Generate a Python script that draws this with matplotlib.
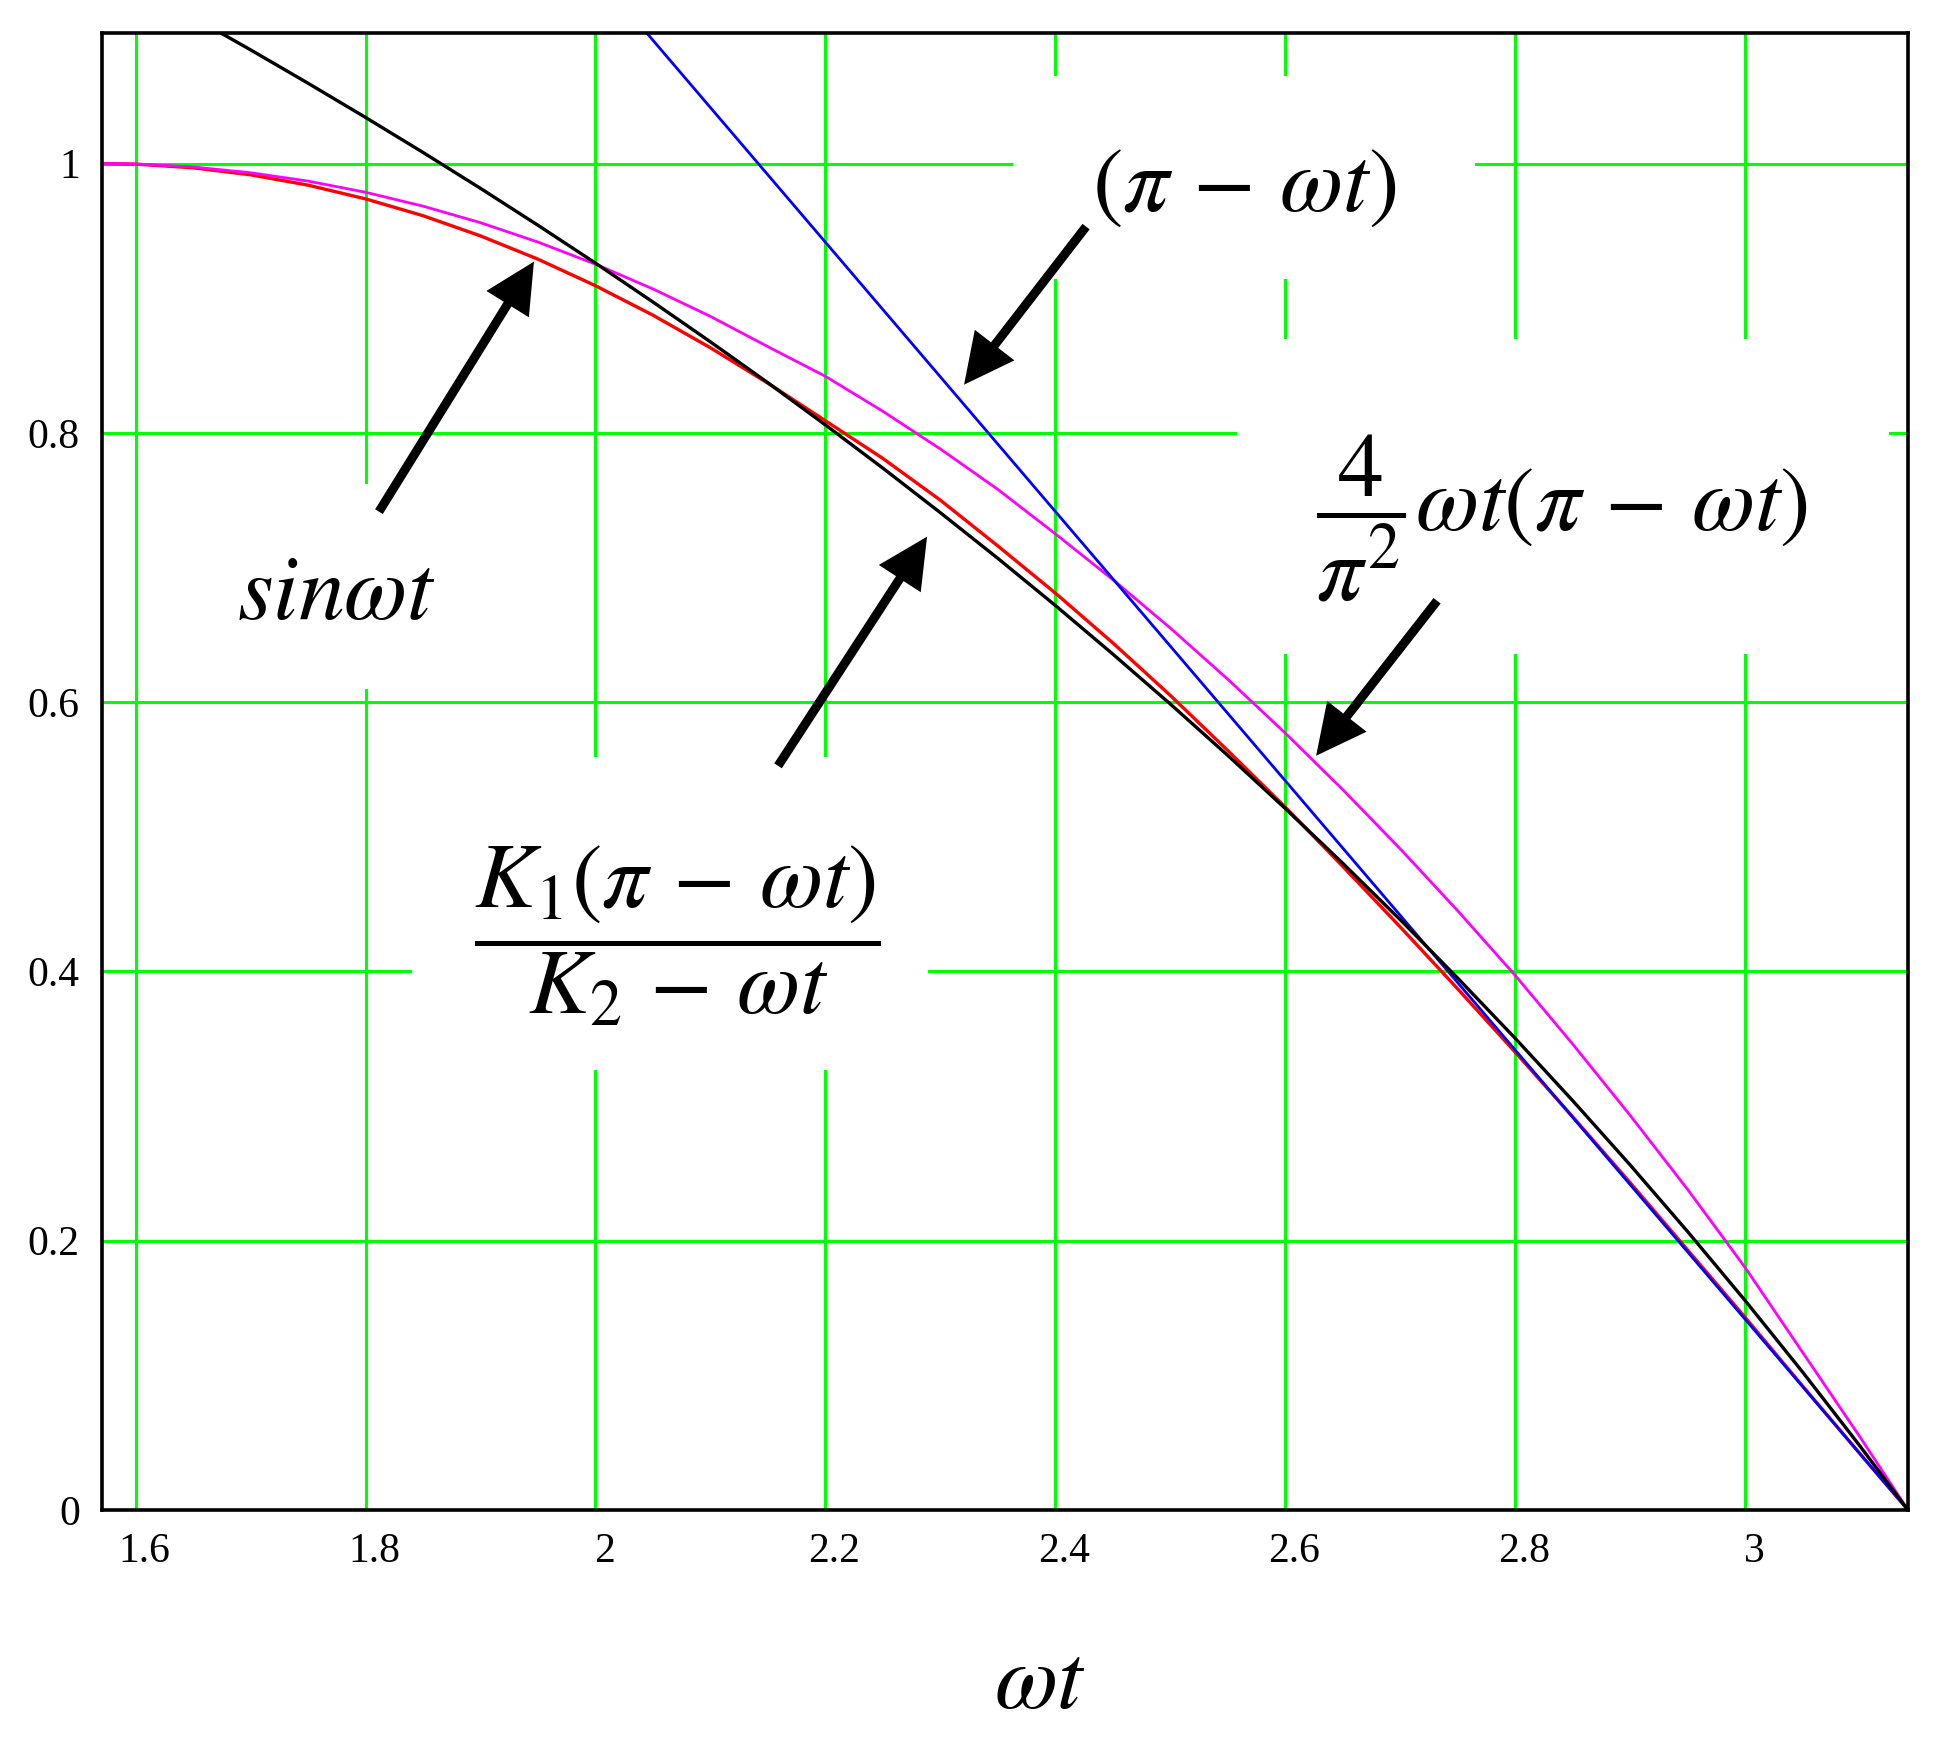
import numpy as np
import matplotlib
matplotlib.use('Agg')
import matplotlib.pyplot as plt
from matplotlib.patches import Rectangle
from matplotlib.transforms import ScaledTranslation

plt.rcParams['mathtext.fontset'] = 'stix'

# values (omega*t on x)
wt = [1.5708, 1.60, 1.65, 1.70, 1.75, 1.80, 1.85, 1.90, 1.95, 2.00, 2.05,
      2.10, 2.15, 2.20, 2.25, 2.30, 2.35, 2.40, 2.45, 2.50, 2.55, 2.60,
      2.65, 2.70, 2.75, 2.80, 2.85, 2.90, 2.95, 3.00, 3.05, 3.10, 3.1416]

sin_wt = [1.0000, 0.9996, 0.9969, 0.9917, 0.9840, 0.9738, 0.9613, 0.9463,
          0.9290, 0.9093, 0.8874, 0.8632, 0.8369, 0.8090, 0.7810, 0.7500,
          0.7160, 0.6810, 0.6440, 0.6050, 0.5640, 0.5220, 0.4780, 0.4330,
          0.3870, 0.3400, 0.2920, 0.2430, 0.1930, 0.1430, 0.0920, 0.0416, 0.0]

pi_minus = [1.5708, 1.5416, 1.4916, 1.4416, 1.3916, 1.3416, 1.2916, 1.2416,
            1.1916, 1.1416, 1.0916, 1.0416, 0.9916, 0.9416, 0.8916, 0.8416,
            0.7916, 0.7416, 0.6916, 0.6416, 0.5916, 0.5416, 0.4916, 0.4416,
            0.3916, 0.3416, 0.2916, 0.2416, 0.1916, 0.1416, 0.0916, 0.0416, 0.0]

parab = [1.0000, 0.9997, 0.9975, 0.9932, 0.9870, 0.9787, 0.9684, 0.9561,
         0.9417, 0.9253, 0.9069, 0.8865, 0.8640, 0.8420, 0.8160, 0.7880,
         0.7580, 0.7250, 0.6910, 0.6550, 0.6170, 0.5770, 0.5350, 0.4910,
         0.4450, 0.3970, 0.3460, 0.2930, 0.2380, 0.1800, 0.1170, 0.0540, 0.0]

ratio = [1.1459, 1.1323, 1.1087, 1.0845, 1.0597, 1.0343, 1.0083, 0.9816,
         0.9542, 0.9261, 0.8972, 0.8676, 0.8372, 0.8059, 0.7738, 0.7407,
         0.7068, 0.6718, 0.6357, 0.5986, 0.5604, 0.5210, 0.4803, 0.4384,
         0.3950, 0.3503, 0.3040, 0.2562, 0.2067, 0.1555, 0.1024, 0.0473, 0.0]

xticks = [1.6, 1.8, 2.0, 2.2, 2.4, 2.6, 2.8, 3.0]
yticks = [0, 0.2, 0.4, 0.6, 0.8, 1.0]

fig = plt.figure(figsize=(19.43, 17.44), dpi=100)
ax = fig.add_axes([102/1943, 1 - 1510/1744, 1806/1943, 1477/1744])

ax.set_xlim(1.5708, 3.1416)
ax.set_ylim(0, 1.097)
ax.set_axisbelow(True)
ax.grid(True, color='#00ff00', lw=2.2)

ax.set_xticks(xticks)
ax.set_yticks(yticks)
ax.set_xticklabels(['%g' % v for v in xticks])
ax.set_yticklabels(['%g' % v for v in yticks])
ax.tick_params(length=0, labelsize=30, pad=16)
for lbl in ax.get_xticklabels() + ax.get_yticklabels():
    lbl.set_family('Liberation Serif')
for lbl in ax.get_xticklabels():
    lbl.set_transform(lbl.get_transform() + ScaledTranslation(0.09, 0, fig.dpi_scale_trans))
for sp in ax.spines.values():
    sp.set_linewidth(2.6)
    sp.set_zorder(10)

# white patches where the labels break the grid
for (x0, x1, y0, y1) in [(2.363, 2.765, 0.914, 1.065),
                         (2.558, 3.125, 0.636, 0.870),
                         (1.840, 2.289, 0.327, 0.559),
                         (1.647, 1.952, 0.610, 0.762)]:
    ax.add_patch(Rectangle((x0, y0), x1 - x0, y1 - y0, fc='white', ec='none', zorder=1))

ax.plot(wt, sin_wt, color='#ff0000', lw=2.4, zorder=3)
ax.plot(wt, parab, color='#ff00ff', lw=2.0, zorder=3)
ax.plot(wt, pi_minus, color='#0000ff', lw=2.0, zorder=4)
ax.plot(wt, ratio, color='black', lw=2.4, zorder=5)

fs = 66
ax.text(2.564, 0.984, r'$(\pi\,-\,\omega t)$', fontsize=fs, ha='center', va='center', zorder=6)
ax.text(2.841, 0.737, r'$\dfrac{\,4\,}{\pi^2}\omega t(\pi\,-\,\omega t)$', fontsize=fs,
        ha='center', va='center', zorder=6)
ax.text(2.071, 0.427, r'$\dfrac{K_1(\pi\,-\,\omega t)}{K_2\,-\,\omega t}$', fontsize=fs,
        ha='center', va='center', zorder=6)
ax.text(1.775, 0.681, r'$sin\omega t$', fontsize=fs, ha='center', va='center', zorder=6)

arrow = dict(arrowstyle='simple,head_length=36,head_width=36,tail_width=6.5',
             mutation_scale=1, color='black', lw=0, shrinkA=0, shrinkB=0)
for tip, tail in [((1.9465, 0.9272), (1.8117, 0.7415)),
                  ((2.2884, 0.7229), (2.1588, 0.5527)),
                  ((2.3206, 0.8358), (2.4267, 0.9532)),
                  ((2.6268, 0.5602), (2.7320, 0.6753))]:
    ax.annotate('', xy=tip, xytext=tail, arrowprops=arrow, zorder=7)

fig.text(1040/1943, 1 - 1682/1744, r'$\omega t$', fontsize=fs, ha='center', va='center')

fig.savefig('out.png', dpi=100)
